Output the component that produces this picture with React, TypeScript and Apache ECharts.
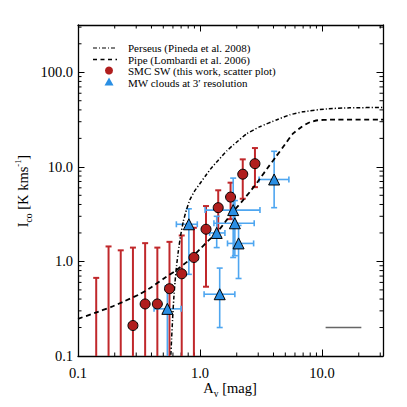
import React, { useEffect, useRef } from "react";
import * as echarts from "echarts";

// ---- SMC SW (this work) ----
const redAv = [0.141, 0.178, 0.224, 0.282, 0.355, 0.447, 0.562, 0.708, 0.891, 1.12, 1.41, 1.78, 2.24, 2.82];
const redIco = [0.06, 0.07, 0.05, 0.21, 0.355, 0.355, 0.515, 0.74, 1.1, 2.19, 3.7, 4.79, 8.36, 10.8];
const redIcoLo = [0.01, 0.01, 0.01, 0.01, 0.01, 0.01, 0.01, 0.01, 0.01, 0.54, 1.8, 2.8, 4.6, 6.1];
const redIcoHi = [0.67, 1.44, 1.31, 1.4, 1.56, 1.4, 1.61, 1.88, 2.27, 3.85, 5.65, 6.8, 12.0, 15.8];

// ---- MW clouds at 3' resolution ----
const mwAv = [0.54, 0.81, 1.37, 1.45, 1.87, 1.93, 2.07, 4.05];
const mwIco = [0.315, 2.47, 2.0, 0.45, 3.49, 2.53, 1.55, 7.35];
const mwAvLo = [0.42, 0.64, 1.2, 1.08, 1.1, 1.3, 1.68, 3.05];
const mwAvHi = [0.7, 0.95, 1.6, 1.93, 3.1, 2.78, 2.75, 5.35];
const mwIcoLo = [0.02, 0.73, 1.4, 0.2, 1.1, 1.15, 0.66, 3.7];
const mwIcoHi = [0.55, 3.6, 3.0, 0.85, 7.6, 4.4, 2.4, 14.6];

// ---- Perseus (Pineda et al. 2008) ----
const perseusAv = [0.577, 0.585, 0.596, 0.609, 0.624, 0.642, 0.664, 0.692, 0.73, 0.776, 0.829, 0.91, 1.0, 1.099, 1.23, 1.4, 1.66, 1.97, 2.42, 3.1, 4.27, 5.45, 6.96, 10.9, 16.9, 31.6];
const perseusIco = [0.103, 0.152, 0.247, 0.401, 0.605, 0.893, 1.28, 1.85, 2.66, 3.55, 4.53, 5.63, 6.67, 7.91, 9.61, 11.6, 14.8, 18.0, 22.4, 26.6, 31.5, 35.5, 38.2, 41.0, 42.1, 42.4];

// ---- Pipe (Lombardi et al. 2006) ----
const pipeAv = [0.1, 0.138, 0.187, 0.243, 0.323, 0.39, 0.498, 0.624, 0.798, 1.0, 1.16, 1.38, 1.6, 1.86, 2.21, 2.56, 2.98, 3.53, 4.19, 4.96, 5.77, 6.83, 7.95, 9.24, 11.6, 31.6];
const pipeIco = [0.247, 0.286, 0.33, 0.382, 0.453, 0.524, 0.651, 0.791, 1.01, 1.35, 1.64, 2.03, 2.59, 3.34, 4.31, 5.43, 7.0, 9.48, 12.8, 17.2, 22.4, 26.6, 29.6, 31.1, 31.5, 31.5];

// ---- scale bar (grey segment) ----
const barAv = [10.7, 21.0];
const barIco = [0.2, 0.2];

// ---- axes ----
const xMin = 0.1, xMax = 31.6;
const yMin = 0.1, yMax = 316;
const xDecades = [0.1, 1, 10];
const yDecades = [0.1, 1, 10, 100];
const minorMult = [2, 3, 4, 5, 6, 7, 8, 9];

// ---- legend labels ----
const legendLabels = [
  "Perseus (Pineda et al. 2008)",
  "Pipe (Lombardi et al. 2006)",
  "SMC SW (this work, scatter plot)",
  "MW clouds at 3\u2032 resolution",
];

const L = Math.log10;
const SERIF = "Liberation Serif";

function minorTicks(decades: number[], max: number) {
  const out: number[] = [];
  decades.forEach((d) => minorMult.forEach((k) => { if (k * d < max) out.push(L(k * d)); }));
  return out;
}

function fmt(v: number) {
  const r = Math.round(v);
  if (Math.abs(v - r) > 1e-6) return "";
  return Math.pow(10, r).toFixed(1);
}

export default function App() {
  const ref = useRef<HTMLDivElement>(null);
  useEffect(() => {
    document.body.style.margin = "0";
    const chart = echarts.init(ref.current!, null, { renderer: "svg" });
    const lx0 = L(xMin), lx1 = L(xMax), ly0 = L(yMin), ly1 = L(yMax);
    const lyMid = (ly0 + ly1) / 2, lxMid = (lx0 + lx1) / 2;

    const redErr = redAv.map((x, i) => [L(x), L(redIco[i]), L(redIcoLo[i]), L(redIcoHi[i])]);
    const mwErr = mwAv.map((x, i) => [L(x), L(mwIco[i]), L(mwIcoLo[i]), L(mwIcoHi[i]), L(mwAvLo[i]), L(mwAvHi[i])]);

    const errRender = (color: string, width: number, cap: number, hasX: boolean) => (params: any, api: any) => {
      const x = api.value(0), y = api.value(1), lo = api.value(2), hi = api.value(3);
      const pl = api.coord([x, lo]);
      const ph = api.coord([x, hi]);
      const st = { stroke: color, lineWidth: width };
      const ch: any[] = [
        { type: "line", shape: { x1: pl[0], y1: pl[1], x2: ph[0], y2: ph[1] }, style: st },
        { type: "line", shape: { x1: ph[0] - cap, y1: ph[1], x2: ph[0] + cap, y2: ph[1] }, style: st },
        { type: "line", shape: { x1: pl[0] - cap, y1: pl[1], x2: pl[0] + cap, y2: pl[1] }, style: st },
      ];
      if (hasX) {
        const a = api.coord([api.value(4), y]);
        const b = api.coord([api.value(5), y]);
        ch.push({ type: "line", shape: { x1: a[0], y1: a[1], x2: b[0], y2: b[1] }, style: st });
        ch.push({ type: "line", shape: { x1: a[0], y1: a[1] - cap, x2: a[0], y2: a[1] + cap }, style: st });
        ch.push({ type: "line", shape: { x1: b[0], y1: b[1] - cap, x2: b[0], y2: b[1] + cap }, style: st });
      }
      return { type: "group", children: ch };
    };

    const minorLen = 3.5;
    const xMinor = minorTicks(xDecades, xMax).map((v) => [v, lyMid]);
    const yMinor = minorTicks(yDecades, yMax).map((v) => [lxMid, v]);
    const tickStyle = { stroke: "#000", lineWidth: 1 };

    const rich = {
      a: { fontSize: 14.5, fontFamily: SERIF, color: "#000" },
      s: { fontSize: 9.5, fontFamily: SERIF, color: "#000", verticalAlign: "bottom", padding: [0, 0, -3, 0] },
      p: { fontSize: 8.5, fontFamily: SERIF, color: "#000", verticalAlign: "top", padding: [-2, 0, 0, 0] },
    };
    const legFont = `11px "${SERIF}"`;
    const legY = [48, 59.5, 71, 82.5];

    const axisCommon = {
      type: "value",
      interval: 1,
      splitLine: { show: false },
      axisLine: { show: true, onZero: false, lineStyle: { color: "#000", width: 1.3 } },
      axisTick: { show: true, inside: true, length: 6.5, lineStyle: { color: "#000", width: 1 } },
    };

    chart.setOption({
      animation: false,
      backgroundColor: "#fff",
      grid: { left: 78, right: 24, top: 25, bottom: 51, containLabel: false },
      xAxis: [
        {
          ...axisCommon, position: "bottom", min: lx0, max: lx1,
          axisLabel: { show: true, formatter: fmt, margin: 9, showMaxLabel: false, color: "#000", fontFamily: SERIF, fontSize: 14.5 },
        },
        { ...axisCommon, position: "top", min: lx0, max: lx1, axisLabel: { show: false } },
      ],
      yAxis: [
        {
          ...axisCommon, position: "left", min: ly0, max: ly1,
          axisLabel: { show: true, formatter: fmt, margin: 5, showMaxLabel: false, color: "#000", fontFamily: SERIF, fontSize: 14.5 },
        },
        { ...axisCommon, position: "right", min: ly0, max: ly1, axisLabel: { show: false } },
      ],
      series: [
        {
          type: "custom", name: "xminor", data: xMinor, clip: false, silent: true,
          renderItem: (p: any, api: any) => {
            const v = api.value(0);
            const b = api.coord([v, ly0]);
            const t = api.coord([v, ly1]);
            return {
              type: "group", children: [
                { type: "line", shape: { x1: b[0], y1: b[1], x2: b[0], y2: b[1] - minorLen }, style: tickStyle },
                { type: "line", shape: { x1: t[0], y1: t[1], x2: t[0], y2: t[1] + minorLen }, style: tickStyle },
              ],
            };
          },
        },
        {
          type: "custom", name: "yminor", data: yMinor, clip: false, silent: true,
          renderItem: (p: any, api: any) => {
            const v = api.value(1);
            const l = api.coord([lx0, v]);
            const r = api.coord([lx1, v]);
            return {
              type: "group", children: [
                { type: "line", shape: { x1: l[0], y1: l[1], x2: l[0] + minorLen, y2: l[1] }, style: tickStyle },
                { type: "line", shape: { x1: r[0], y1: r[1], x2: r[0] - minorLen, y2: r[1] }, style: tickStyle },
              ],
            };
          },
        },
        { type: "custom", name: "redErr", data: redErr, clip: true, renderItem: errRender("#c0282b", 2, 3, false) },
        { type: "custom", name: "mwErr", data: mwErr, clip: true, renderItem: errRender("#4ea6f0", 1.6, 3, true) },
        {
          type: "line", name: "Perseus", data: perseusAv.map((x, i) => [L(x), L(perseusIco[i])]),
          showSymbol: false, symbol: "none", clip: true, z: 3, smooth: 0.15,
          lineStyle: { color: "#000", width: 1.5, type: [4, 2, 1.2, 2] },
        },
        {
          type: "line", name: "Pipe", data: pipeAv.map((x, i) => [L(x), L(pipeIco[i])]),
          showSymbol: false, symbol: "none", clip: true, z: 3, smooth: 0.15,
          lineStyle: { color: "#000", width: 1.8, type: [5, 3.5] },
        },
        {
          type: "line", name: "bar", data: barAv.map((x, i) => [L(x), L(barIco[i])]),
          showSymbol: false, symbol: "none", lineStyle: { color: "#666", width: 1.4 },
        },
        {
          type: "scatter", name: "SMC SW", data: redAv.map((x, i) => [L(x), L(redIco[i])]), clip: true, z: 4,
          symbol: "circle", symbolSize: 10,
          itemStyle: { color: "#b01e1e", borderColor: "#000", borderWidth: 1, opacity: 1 },
        },
        {
          type: "scatter", name: "MW", data: mwAv.map((x, i) => [L(x), L(mwIco[i])]), clip: true, z: 4,
          symbol: "triangle", symbolSize: 11,
          itemStyle: { color: "#2a8fe4", borderColor: "#000", borderWidth: 1, opacity: 1 },
        },
      ],
      graphic: [
        { type: "line", shape: { x1: 93, y1: legY[0], x2: 117, y2: legY[0] }, style: { stroke: "#000", lineWidth: 1.2, lineDash: [4, 2, 1, 2] } },
        { type: "line", shape: { x1: 93, y1: legY[1], x2: 117, y2: legY[1] }, style: { stroke: "#000", lineWidth: 1.5, lineDash: [4, 3.5] } },
        { type: "circle", shape: { cx: 109, cy: legY[2] - 0.5, r: 4 }, style: { fill: "#b01e1e" } },
        { type: "polygon", shape: { points: [[104.5, legY[3] + 3], [113.5, legY[3] + 3], [109, legY[3] - 5]] }, style: { fill: "#2a8fe4" } },
        ...legendLabels.map((t, i) => ({
          type: "text", x: 128, y: legY[i],
          style: { text: t, font: legFont, lineHeight: 10.5, fill: "#000", verticalAlign: "middle" },
        })),
        { type: "text", x: 230, y: 388, style: { text: "{a|A}{s|v}{a| [mag]}", rich, align: "center", verticalAlign: "middle" } },
        { type: "text", x: 23, y: 191, rotation: Math.PI / 2, style: { text: "{a|I}{s|co}{a| [K kms}{p|-1}{a|]}", rich, align: "center", verticalAlign: "middle" } },
      ],
    });
    return () => chart.dispose();
  }, []);
  return <div ref={ref} style={{ width: 407, height: 407 }} />;
}
